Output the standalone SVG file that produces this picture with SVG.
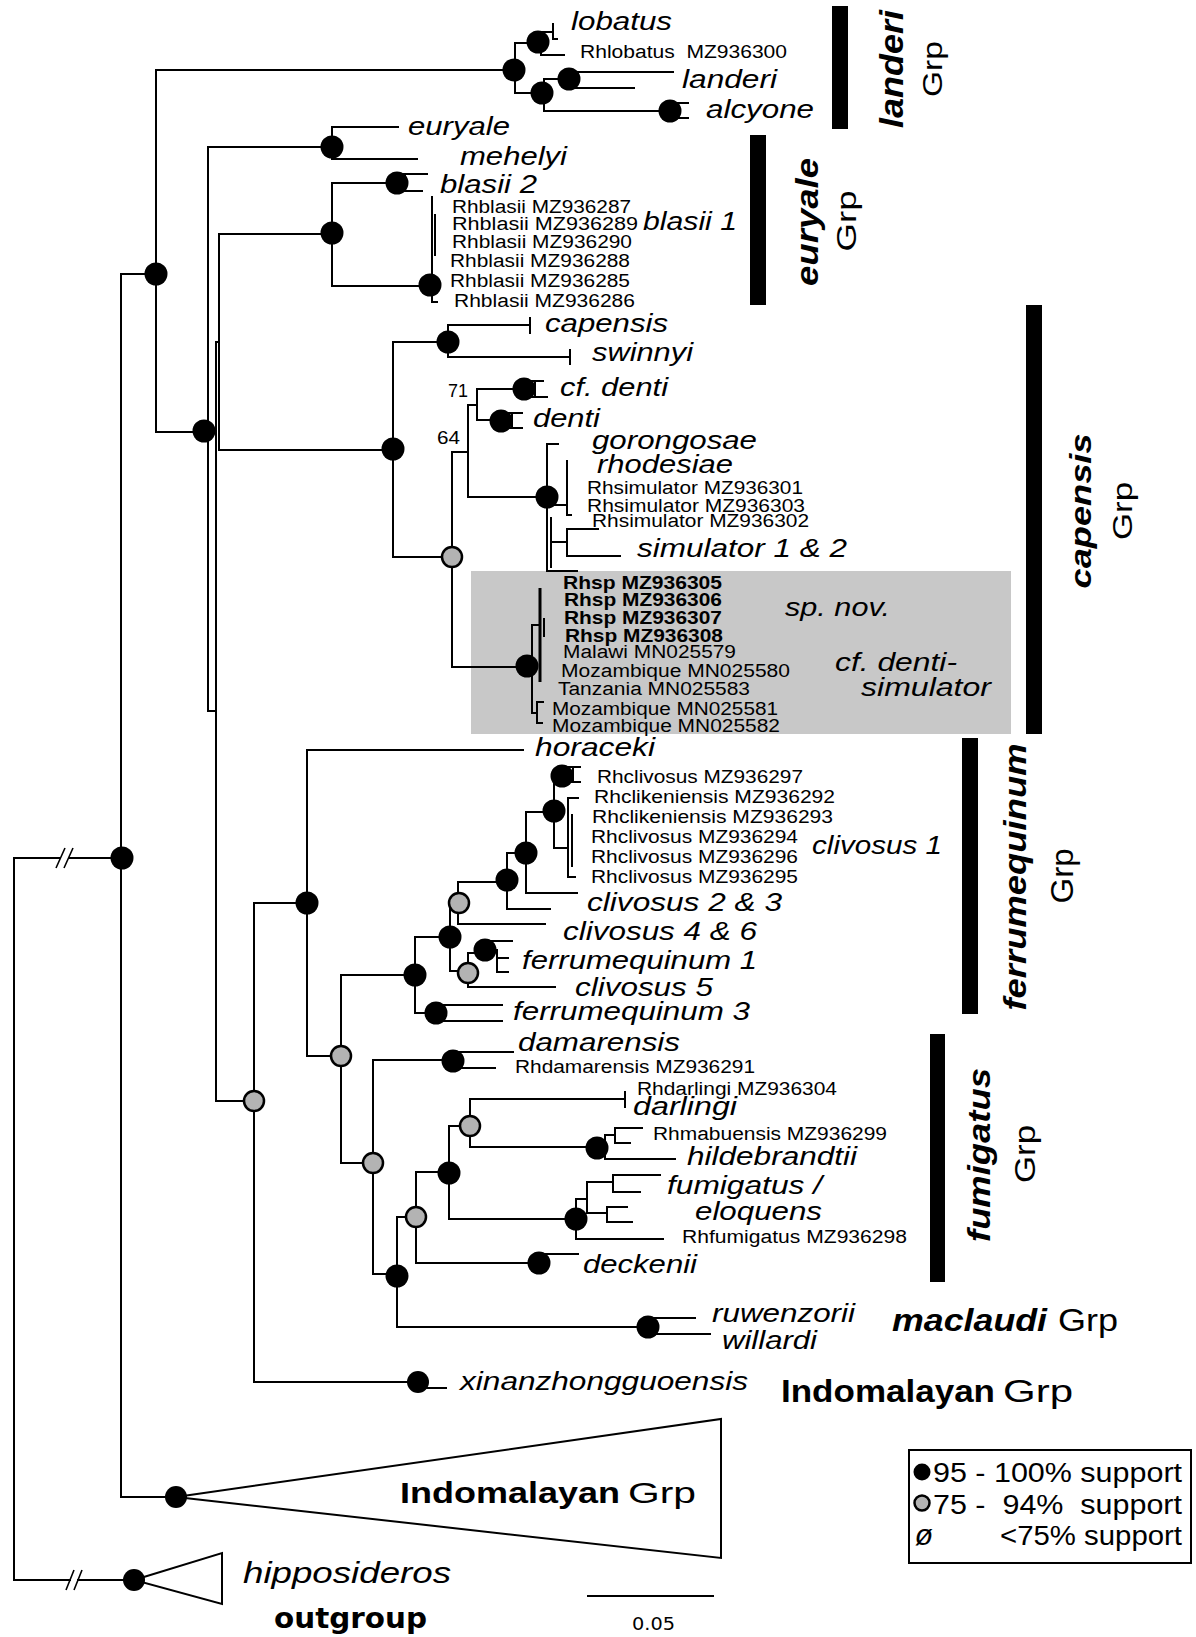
<svg xmlns="http://www.w3.org/2000/svg" width="1196" height="1637" viewBox="0 0 1196 1637">
<style>
text{font-family:"Liberation Sans",Arial,sans-serif;fill:#000}
.sp{font-style:italic;font-size:26px}
.ac{font-size:18px}
.ab{font-size:19px;font-weight:bold}
.gb{font-style:italic;font-weight:bold}
.br{fill:none;stroke:#000;stroke-width:2;stroke-linecap:square}
.bk{fill:#000}
.gy{fill:#b3b3b3;stroke:#000;stroke-width:2.5}
</style>
<rect width="1196" height="1637" fill="#fff"/>
<rect x="471" y="571" width="540" height="163" fill="#c8c8c8"/>
<g id="connectors">
<path class="br" d="M14,858 H60 M69,858 H122 M14,858 V1580 M14,1580 H70 M78,1580 H134
M121,274 V1497 M121,274 H156 M121,1497 H176
M156,70 V432 M156,70 H514
M515,43 V93 M515,43 H538 M515,93 H542
M541,32 V55 M541,32 H553 M553,24 V39 H557 M541,55 H564
M544,79 V111 M544,79 H569 M544,111 H670
M570,72 V88 M570,72 H673 M570,88 H634
M670,103 H688 M676,103 V118 M670,118 H688
M156,432 H206
M208,147 V711 M208,147 H332 M332,127 V159 M332,127 H398 M332,159 H417
M208,711 H216 M216,342 V1101 M216,342 H219
M219,234 V450 M219,234 H332
M332,183 V286 M332,183 H397
M397,174 H427 M405,174 V191 M397,191 H422
M332,286 H430 M432,197 V302 H437 M435,215 V255
M219,450 H393 M393,342 V557 M393,342 H448
M448,325 V357 M448,325 H530 M530,318 V333 M448,357 H570 M570,350 V364
M393,557 H452 M452,452 V667 M452,452 H468
M468,405 V497 M468,405 H477 M477,389 V420 M477,389 H524
M524,381 H543 M535,381 V397 M524,397 H547
M477,420 H501 M501,413 H522 M512,413 V428 M501,428 H522
M468,497 H547
M547,444 V571 M547,444 H558
M547,505 H567 M567,461 V515 H571
M551,518 V567 M551,542 H567 M567,529 V556 M567,529 H598 M567,556 H620
M547,571 H577
M452,667 H527 M532,625 V713 M532,625 H540 M544,619 V636
M532,713 H537 M537,702 V723 M537,702 H543 M537,723 H542
M216,1101 H254 M254,903 V1382 M254,903 H307
M307,750 V1056 M307,750 H523 M307,1056 H341
M341,975 V1163 M341,975 H415
M415,937 V1013 M415,937 H450
M450,903 V971 M450,903 H458
M458,882 V924 M458,882 H507
M507,853 V909 M507,909 H550 M507,853 H526
M526,812 V893 M526,893 H577 M526,812 H554
M554,776 V848 M554,776 H562
M562,767 H580 M573,767 V782 M562,782 H580
M554,848 H568 M568,798 V877 M568,798 H578 M568,877 H575 M572,815 V866
M458,924 H545
M450,971 H468 M468,953 V987 M468,953 H485
M485,941 H512 M485,950 H497 V972 H508 M497,958 H508
M468,987 H555
M415,1013 H436 M436,1005 H502 M436,1021 H502 M436,1005 V1021
M341,1163 H373 M373,1060 V1274 M373,1060 H453
M453,1052 H513 M453,1068 H495 M453,1052 V1068
M373,1274 H397 M397,1217 V1327 M397,1217 H416
M416,1172 V1263 M416,1172 H449
M449,1126 V1219 M449,1126 H470
M470,1099 V1147 M470,1099 H625 M625,1092 V1107
M470,1147 H597 M597,1148 H605 M605,1135 V1159 M605,1135 H615 M615,1128 V1143 M615,1128 H642 M615,1143 H630 M605,1159 H675
M449,1219 H576 M576,1199 V1239 M576,1239 H663 M576,1199 H587
M587,1182 V1213 M587,1182 H613 M613,1175 V1192 M613,1175 H660 M613,1192 H640
M587,1213 H607 M607,1207 V1222 M607,1207 H627 M607,1222 H632
M416,1263 H539 M539,1254 H578
M397,1327 H648 M648,1318 H695 M648,1334 H710 M648,1318 V1334
M254,1382 H418 M418,1388 H446
M588,1596 H713"/>
<path d="M540,588 V682" stroke="#000" stroke-width="3"/>
<path d="M56,868 L65,848 M64,868 L73,848 M66,1590 L74,1570 M74,1590 L82,1570" stroke="#000" stroke-width="1.6" fill="none"/>
<path d="M176,1497 L721,1419 L721,1558 Z" fill="#fff" stroke="#000" stroke-width="2"/>
<path d="M134,1580 L222,1553 L222,1604 Z" fill="#fff" stroke="#000" stroke-width="2"/>
</g>
<g id="nodes">
<g id="n1"><circle class="bk" cx="514" cy="70" r="11.5"/></g>
<g id="n2"><circle class="bk" cx="538" cy="42" r="11.5"/></g>
<g id="n3"><circle class="bk" cx="542" cy="93" r="11.5"/></g>
<g id="n4"><circle class="bk" cx="569" cy="79" r="11.5"/></g>
<g id="n5"><circle class="bk" cx="670" cy="111" r="11.5"/></g>
<g id="n6"><circle class="bk" cx="156" cy="274" r="11.5"/></g>
<g id="n7"><circle class="bk" cx="332" cy="147" r="11.5"/></g>
<g id="n8"><circle class="bk" cx="397" cy="183" r="11.5"/></g>
<g id="n9"><circle class="bk" cx="332" cy="233" r="11.5"/></g>
<g id="n10"><circle class="bk" cx="430" cy="285" r="11.5"/></g>
<g id="n11"><circle class="bk" cx="204" cy="431" r="11.5"/></g>
<g id="n12"><circle class="bk" cx="122" cy="858" r="11.5"/></g>
<g id="n13"><circle class="bk" cx="393" cy="449" r="11.5"/></g>
<g id="n14"><circle class="bk" cx="448" cy="342" r="11.5"/></g>
<g id="n15"><circle class="bk" cx="524" cy="389" r="11.5"/></g>
<g id="n16"><circle class="bk" cx="501" cy="421" r="11.5"/></g>
<g id="n17"><circle class="bk" cx="547" cy="497" r="11.5"/></g>
<g id="n18"><circle class="bk" cx="527" cy="666" r="11.5"/></g>
<g id="n19"><circle class="gy" cx="452" cy="557" r="10"/></g>
<g id="n20"><circle class="gy" cx="254" cy="1101" r="10"/></g>
<g id="n21"><circle class="bk" cx="307" cy="903" r="11.5"/></g>
<g id="n22"><circle class="gy" cx="341" cy="1056" r="10"/></g>
<g id="n23"><circle class="bk" cx="415" cy="975" r="11.5"/></g>
<g id="n24"><circle class="bk" cx="450" cy="937" r="11.5"/></g>
<g id="n25"><circle class="gy" cx="459" cy="903" r="10"/></g>
<g id="n26"><circle class="bk" cx="507" cy="880" r="11.5"/></g>
<g id="n27"><circle class="bk" cx="526" cy="853" r="11.5"/></g>
<g id="n28"><circle class="bk" cx="554" cy="811" r="11.5"/></g>
<g id="n29"><circle class="bk" cx="562" cy="776" r="11.5"/></g>
<g id="n30"><circle class="gy" cx="468" cy="973" r="10"/></g>
<g id="n31"><circle class="bk" cx="485" cy="950" r="11.5"/></g>
<g id="n32"><circle class="bk" cx="436" cy="1013" r="11.5"/></g>
<g id="n33"><circle class="gy" cx="373" cy="1163" r="10"/></g>
<g id="n34"><circle class="bk" cx="453" cy="1061" r="11.5"/></g>
<g id="n35"><circle class="bk" cx="397" cy="1276" r="11.5"/></g>
<g id="n36"><circle class="gy" cx="416" cy="1217" r="10"/></g>
<g id="n37"><circle class="bk" cx="449" cy="1173" r="11.5"/></g>
<g id="n38"><circle class="gy" cx="470" cy="1126" r="10"/></g>
<g id="n39"><circle class="bk" cx="597" cy="1148" r="11.5"/></g>
<g id="n40"><circle class="bk" cx="576" cy="1219" r="11.5"/></g>
<g id="n41"><circle class="bk" cx="539" cy="1263" r="11.5"/></g>
<g id="n42"><circle class="bk" cx="648" cy="1327" r="11.5"/></g>
<g id="n43"><circle class="bk" cx="418" cy="1382" r="11"/></g>
<g id="n44"><circle class="bk" cx="176" cy="1497" r="11"/></g>
<g id="n45"><circle class="bk" cx="134" cy="1580" r="11"/></g>
</g>
<g id="labels-landeri">
<text class="sp" x="571" y="30" textLength="101" lengthAdjust="spacingAndGlyphs">lobatus</text>
<text class="ac" x="580" y="58" textLength="207" lengthAdjust="spacingAndGlyphs">Rhlobatus&#160; MZ936300</text>
<text class="sp" x="682" y="88" textLength="95" lengthAdjust="spacingAndGlyphs">landeri</text>
<text class="sp" x="706" y="118" textLength="108" lengthAdjust="spacingAndGlyphs">alcyone</text>
</g>
<g id="labels-euryale">
<text class="sp" x="408" y="135" textLength="102" lengthAdjust="spacingAndGlyphs">euryale</text>
<text class="sp" x="460" y="165" textLength="107" lengthAdjust="spacingAndGlyphs">mehelyi</text>
<text class="sp" x="440" y="193" textLength="97" lengthAdjust="spacingAndGlyphs">blasii 2</text>
<text class="ac" x="452" y="213" textLength="179" lengthAdjust="spacingAndGlyphs">Rhblasii MZ936287</text>
<text class="ac" x="452" y="230" textLength="186" lengthAdjust="spacingAndGlyphs">Rhblasii MZ936289</text>
<text class="ac" x="452" y="248" textLength="180" lengthAdjust="spacingAndGlyphs">Rhblasii MZ936290</text>
<text class="ac" x="450" y="267" textLength="180" lengthAdjust="spacingAndGlyphs">Rhblasii MZ936288</text>
<text class="ac" x="450" y="287" textLength="180" lengthAdjust="spacingAndGlyphs">Rhblasii MZ936285</text>
<text class="ac" x="454" y="307" textLength="181" lengthAdjust="spacingAndGlyphs">Rhblasii MZ936286</text>
<text class="sp" x="643" y="230" textLength="94" lengthAdjust="spacingAndGlyphs">blasii 1</text>
</g>
<g id="labels-capensis">
<text class="sp" x="545" y="332" textLength="123" lengthAdjust="spacingAndGlyphs">capensis</text>
<text class="sp" x="592" y="361" textLength="101" lengthAdjust="spacingAndGlyphs">swinnyi</text>
<text class="sp" x="560" y="396" textLength="108" lengthAdjust="spacingAndGlyphs">cf. denti</text>
<text class="sp" x="533" y="427" textLength="67" lengthAdjust="spacingAndGlyphs">denti</text>
<text x="448" y="397" font-size="18" textLength="20" lengthAdjust="spacingAndGlyphs">71</text>
<text x="437" y="444" font-size="18" textLength="23" lengthAdjust="spacingAndGlyphs">64</text>
<text class="sp" x="592" y="449" textLength="165" lengthAdjust="spacingAndGlyphs">gorongosae</text>
<text class="sp" x="597" y="473" textLength="136" lengthAdjust="spacingAndGlyphs">rhodesiae</text>
<text class="ac" x="587" y="494" textLength="216" lengthAdjust="spacingAndGlyphs">Rhsimulator MZ936301</text>
<text class="ac" x="587" y="512" textLength="218" lengthAdjust="spacingAndGlyphs">Rhsimulator MZ936303</text>
<text class="ac" x="592" y="527" textLength="217" lengthAdjust="spacingAndGlyphs">Rhsimulator MZ936302</text>
<text class="sp" x="637" y="557" textLength="210" lengthAdjust="spacingAndGlyphs">simulator 1 &amp; 2</text>
<text class="ab" x="563" y="589" textLength="159" lengthAdjust="spacingAndGlyphs">Rhsp MZ936305</text>
<text class="ab" x="564" y="606" textLength="158" lengthAdjust="spacingAndGlyphs">Rhsp MZ936306</text>
<text class="ab" x="564" y="624" textLength="158" lengthAdjust="spacingAndGlyphs">Rhsp MZ936307</text>
<text class="ab" x="565" y="642" textLength="158" lengthAdjust="spacingAndGlyphs">Rhsp MZ936308</text>
<text class="ac" x="563" y="658" textLength="173" lengthAdjust="spacingAndGlyphs">Malawi MN025579</text>
<text class="ac" x="561" y="677" textLength="229" lengthAdjust="spacingAndGlyphs">Mozambique MN025580</text>
<text class="ac" x="558" y="695" textLength="192" lengthAdjust="spacingAndGlyphs">Tanzania MN025583</text>
<text class="ac" x="552" y="715" textLength="226" lengthAdjust="spacingAndGlyphs">Mozambique MN025581</text>
<text class="ac" x="552" y="732" textLength="228" lengthAdjust="spacingAndGlyphs">Mozambique MN025582</text>
<text class="sp" x="785" y="616" textLength="105" lengthAdjust="spacingAndGlyphs">sp. nov.</text>
<text class="sp" x="835" y="671" textLength="122" lengthAdjust="spacingAndGlyphs">cf. denti-</text>
<text class="sp" x="861" y="696" textLength="130" lengthAdjust="spacingAndGlyphs">simulator</text>
</g>
<g id="labels-ferrumequinum">
<text class="sp" x="535" y="756" textLength="120" lengthAdjust="spacingAndGlyphs">horaceki</text>
<text class="ac" x="597" y="783" textLength="206" lengthAdjust="spacingAndGlyphs">Rhclivosus MZ936297</text>
<text class="ac" x="594" y="803" textLength="241" lengthAdjust="spacingAndGlyphs">Rhclikeniensis MZ936292</text>
<text class="ac" x="592" y="823" textLength="241" lengthAdjust="spacingAndGlyphs">Rhclikeniensis MZ936293</text>
<text class="ac" x="591" y="843" textLength="207" lengthAdjust="spacingAndGlyphs">Rhclivosus MZ936294</text>
<text class="ac" x="591" y="863" textLength="207" lengthAdjust="spacingAndGlyphs">Rhclivosus MZ936296</text>
<text class="ac" x="591" y="883" textLength="207" lengthAdjust="spacingAndGlyphs">Rhclivosus MZ936295</text>
<text class="sp" x="812" y="854" textLength="130" lengthAdjust="spacingAndGlyphs">clivosus 1</text>
<text class="sp" x="587" y="911" textLength="195" lengthAdjust="spacingAndGlyphs">clivosus 2 &amp; 3</text>
<text class="sp" x="563" y="940" textLength="194" lengthAdjust="spacingAndGlyphs">clivosus 4 &amp; 6</text>
<text class="sp" x="522" y="969" textLength="235" lengthAdjust="spacingAndGlyphs">ferrumequinum 1</text>
<text class="sp" x="575" y="996" textLength="138" lengthAdjust="spacingAndGlyphs">clivosus 5</text>
<text class="sp" x="513" y="1020" textLength="237" lengthAdjust="spacingAndGlyphs">ferrumequinum 3</text>
</g>
<g id="labels-fumigatus">
<text class="sp" x="518" y="1051" textLength="162" lengthAdjust="spacingAndGlyphs">damarensis</text>
<text class="ac" x="515" y="1073" textLength="240" lengthAdjust="spacingAndGlyphs">Rhdamarensis MZ936291</text>
<text class="ac" x="637" y="1095" textLength="200" lengthAdjust="spacingAndGlyphs">Rhdarlingi MZ936304</text>
<text class="sp" x="633" y="1115" textLength="104" lengthAdjust="spacingAndGlyphs">darlingi</text>
<text class="ac" x="653" y="1140" textLength="234" lengthAdjust="spacingAndGlyphs">Rhmabuensis MZ936299</text>
<text class="sp" x="687" y="1165" textLength="170" lengthAdjust="spacingAndGlyphs">hildebrandtii</text>
<text class="sp" x="667" y="1194" textLength="155" lengthAdjust="spacingAndGlyphs">fumigatus /</text>
<text class="sp" x="695" y="1220" textLength="127" lengthAdjust="spacingAndGlyphs">eloquens</text>
<text class="ac" x="682" y="1243" textLength="225" lengthAdjust="spacingAndGlyphs">Rhfumigatus MZ936298</text>
<text class="sp" x="583" y="1273" textLength="114" lengthAdjust="spacingAndGlyphs">deckenii</text>
</g>
<g id="labels-other">
<text class="sp" x="712" y="1322" textLength="143" lengthAdjust="spacingAndGlyphs">ruwenzorii</text>
<text class="sp" x="722" y="1349" textLength="95" lengthAdjust="spacingAndGlyphs">willardi</text>
<text class="gb" x="892" y="1331" font-size="32" textLength="155" lengthAdjust="spacingAndGlyphs">maclaudi</text>
<text x="1058" y="1331" font-size="32" textLength="60" lengthAdjust="spacingAndGlyphs">Grp</text>
<text class="sp" x="460" y="1390" textLength="288" lengthAdjust="spacingAndGlyphs">xinanzhongguoensis</text>
<text x="781" y="1402" font-size="31" font-weight="bold" textLength="214" lengthAdjust="spacingAndGlyphs">Indomalayan</text>
<text x="1003" y="1402" font-size="31" textLength="70" lengthAdjust="spacingAndGlyphs">Grp</text>
<text x="400" y="1503" font-size="30" font-weight="bold" textLength="220" lengthAdjust="spacingAndGlyphs">Indomalayan</text>
<text x="628" y="1503" font-size="30" textLength="68" lengthAdjust="spacingAndGlyphs">Grp</text>
<text class="sp" x="243" y="1583" style="font-size:29px" textLength="208" lengthAdjust="spacingAndGlyphs">hipposideros</text>
<text x="274" y="1628" style="font-family:'DejaVu Sans',sans-serif;font-weight:bold;font-size:29px" textLength="153" lengthAdjust="spacingAndGlyphs">outgroup</text>
<text x="632" y="1630" style="font-family:'DejaVu Sans',sans-serif;font-size:17px" textLength="43" lengthAdjust="spacingAndGlyphs">0.05</text>
</g>
<g id="group-bars">
<rect x="832" y="6" width="16" height="123" fill="#000"/>
<rect x="750" y="135" width="16" height="170" fill="#000"/>
<rect x="1026" y="305" width="16" height="429" fill="#000"/>
<rect x="962" y="738" width="16" height="276" fill="#000"/>
<rect x="930" y="1034" width="15" height="248" fill="#000"/>
<text class="gb" transform="translate(903,69) rotate(-90)" text-anchor="middle" font-size="33" textLength="118" lengthAdjust="spacingAndGlyphs">landeri</text>
<text transform="translate(942,69) rotate(-90)" text-anchor="middle" font-size="28" textLength="56" lengthAdjust="spacingAndGlyphs">Grp</text>
<text class="gb" transform="translate(818,222) rotate(-90)" text-anchor="middle" font-size="31" textLength="128" lengthAdjust="spacingAndGlyphs">euryale</text>
<text transform="translate(856,221) rotate(-90)" text-anchor="middle" font-size="27" textLength="61" lengthAdjust="spacingAndGlyphs">Grp</text>
<text class="gb" transform="translate(1091,511) rotate(-90)" text-anchor="middle" font-size="30" textLength="155" lengthAdjust="spacingAndGlyphs">capensis</text>
<text transform="translate(1132,511) rotate(-90)" text-anchor="middle" font-size="28" textLength="58" lengthAdjust="spacingAndGlyphs">Grp</text>
<text class="gb" transform="translate(1026,877) rotate(-90)" text-anchor="middle" font-size="32" textLength="267" lengthAdjust="spacingAndGlyphs">ferrumequinum</text>
<text transform="translate(1073,876) rotate(-90)" text-anchor="middle" font-size="31" textLength="55" lengthAdjust="spacingAndGlyphs">Grp</text>
<text class="gb" transform="translate(990,1155) rotate(-90)" text-anchor="middle" font-size="32" textLength="174" lengthAdjust="spacingAndGlyphs">fumigatus</text>
<text transform="translate(1035,1154) rotate(-90)" text-anchor="middle" font-size="30" textLength="58" lengthAdjust="spacingAndGlyphs">Grp</text>
</g>
<g id="legend">
<rect x="909" y="1450" width="282" height="113" fill="#fff" stroke="#000" stroke-width="2"/>
<circle cx="922" cy="1472" r="8.5" fill="#000"/>
<text x="933" y="1482" font-size="27" textLength="249" lengthAdjust="spacingAndGlyphs">95 - 100% support</text>
<circle cx="922" cy="1503" r="7.5" class="gy"/>
<text x="933" y="1514" font-size="27" textLength="249" lengthAdjust="spacingAndGlyphs" xml:space="preserve">75 -  94%  support</text>
<text x="924" y="1545" text-anchor="middle" style="font-style:italic;font-size:30px">ø</text>
<text x="1000" y="1545" font-size="27" textLength="182" lengthAdjust="spacingAndGlyphs">&lt;75% support</text>
</g>
</svg>
